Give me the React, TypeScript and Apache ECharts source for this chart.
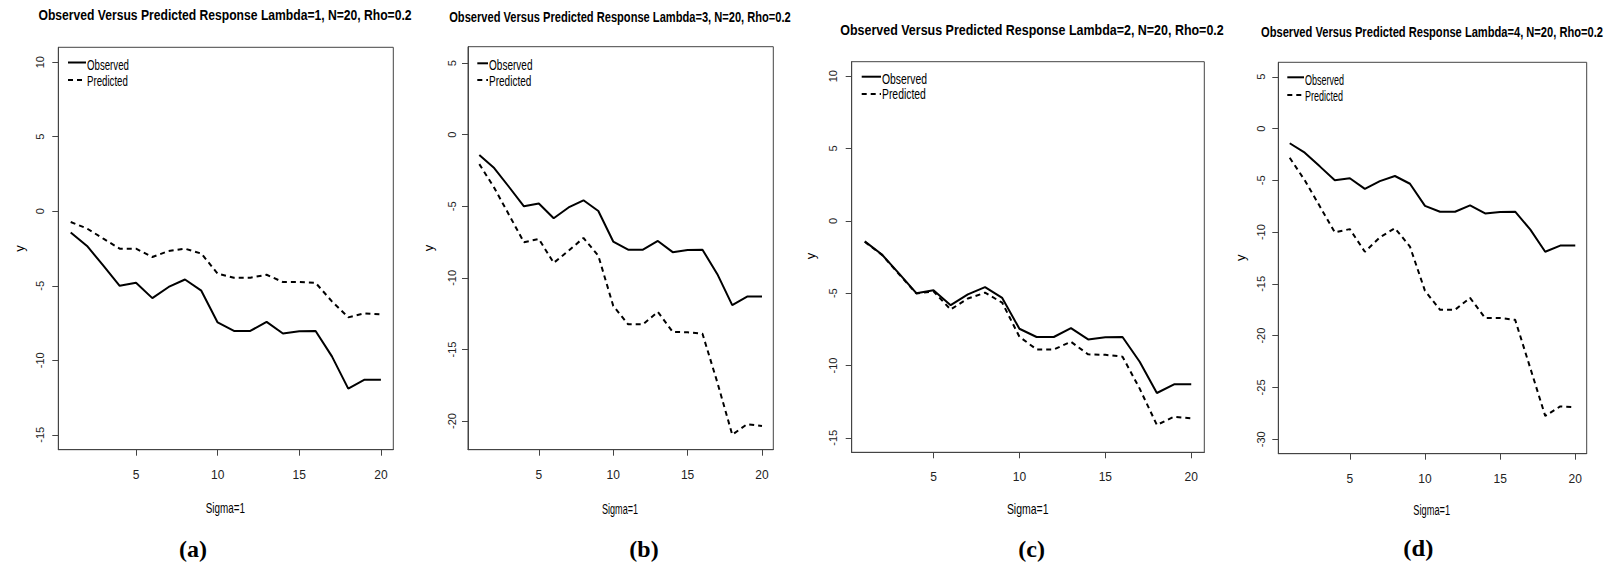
import React, { useEffect, useRef } from "react";
import * as echarts from "echarts";

// ---------- data ----------
const xValues = [1, 2, 3, 4, 5, 6, 7, 8, 9, 10, 11, 12, 13, 14, 15, 16, 17, 18, 19, 20];
const observed = [-1.42, -2.33, -3.65, -5.0, -4.8, -5.83, -5.08, -4.58, -5.33, -7.46, -8.03, -8.03, -7.42, -8.2, -8.05, -8.03, -9.74, -11.9, -11.3, -11.3];
const predictedLambda1 = [-0.72, -1.16, -1.84, -2.51, -2.51, -3.07, -2.67, -2.51, -2.84, -4.19, -4.46, -4.46, -4.26, -4.75, -4.75, -4.8, -6.05, -7.12, -6.85, -6.92];
const predictedLambda3 = [-2.05, -3.7, -5.6, -7.51, -7.28, -8.95, -8.1, -7.21, -8.45, -11.95, -13.24, -13.24, -12.37, -13.77, -13.8, -13.9, -17.3, -20.95, -20.22, -20.35];
const predictedLambda2 = [-1.45, -2.35, -3.7, -5.02, -4.88, -6.13, -5.37, -4.97, -5.66, -8.01, -8.89, -8.89, -8.36, -9.23, -9.26, -9.39, -11.6, -14.11, -13.54, -13.65];
const predictedLambda4 = [-2.82, -5.0, -7.5, -10.03, -9.71, -11.9, -10.5, -9.62, -11.4, -15.67, -17.5, -17.5, -16.35, -18.3, -18.3, -18.47, -23.1, -27.75, -26.83, -26.9];

const xTicks = [5, 10, 15, 20];
const yTicksAC = [-15, -10, -5, 0, 5, 10];
const yTicksB = [-20, -15, -10, -5, 0, 5];
const yTicksD = [-30, -25, -20, -15, -10, -5, 0, 5];

const titles = [
  "Observed Versus Predicted Response Lambda=1, N=20, Rho=0.2",
  "Observed Versus Predicted Response Lambda=3, N=20, Rho=0.2",
  "Observed Versus Predicted Response Lambda=2, N=20, Rho=0.2",
  "Observed Versus Predicted Response Lambda=4, N=20, Rho=0.2",
];
const panelLetters = ["(a)", "(b)", "(c)", "(d)"];
const seriesNames = ["Observed", "Predicted"];
const xName = "Sigma=1";
const yName = "y";

// ---------- layout ----------
const panels = [
  {
    grid: { left: 58.3, top: 47.3, width: 335, height: 402.4 },
    yMin: -16, yMax: 11, yTicks: yTicksAC, predicted: predictedLambda1,
    title: { cx: 225, cy: 15.5, w: 374 },
    legend: { x0: 68, x1: 86, tx: 87, tw: 42, y1: 62.5, ty1: 65, y2: 80, ty2: 81 },
    xname: { cx: 225.3, cy: 508, w: 39.3 },
    yname: { x: 19, y: 248.5 },
    letter: { cx: 193, cy: 549, w: 28 },
    yMargin: 12.5, xMargin: 19,
  },
  {
    grid: { left: 468, top: 46.7, width: 305.3, height: 403 },
    yMin: -22, yMax: 6.15, yTicks: yTicksB, predicted: predictedLambda3,
    title: { cx: 620, cy: 17.2, w: 342 },
    legend: { x0: 477.3, x1: 488, tx: 489, tw: 43.5, y1: 63.3, ty1: 65.7, y2: 80, ty2: 81.7 },
    xname: { cx: 620, cy: 508.7, w: 36 },
    yname: { x: 428, y: 248 },
    letter: { cx: 644, cy: 548.7, w: 29.3 },
    yMargin: 10.5, xMargin: 19,
  },
  {
    grid: { left: 851.7, top: 61.7, width: 352.6, height: 390.6 },
    yMin: -16, yMax: 11, yTicks: yTicksAC, predicted: predictedLambda2,
    title: { cx: 1032, cy: 30.5, w: 384 },
    legend: { x0: 861.7, x1: 881, tx: 882, tw: 45, y1: 76.7, ty1: 79, y2: 94, ty2: 94.3 },
    xname: { cx: 1027.7, cy: 509, w: 41.7 },
    yname: { x: 810, y: 256 },
    letter: { cx: 1031.7, cy: 548.7, w: 26.7 },
    yMargin: 13, xMargin: 19,
  },
  {
    grid: { left: 1278.3, top: 62.3, width: 308.4, height: 391.4 },
    yMin: -31.4, yMax: 6.4, yTicks: yTicksD, predicted: predictedLambda4,
    title: { cx: 1432, cy: 32, w: 342.6 },
    legend: { x0: 1287.3, x1: 1304, tx: 1305, tw: 39, y1: 77.3, ty1: 80, y2: 95, ty2: 95.7 },
    xname: { cx: 1431.7, cy: 510.7, w: 36.7 },
    yname: { x: 1240, y: 257.7 },
    letter: { cx: 1418.3, cy: 548.7, w: 30 },
    yMargin: 11.5, xMargin: 19,
  },
];

const SANS = "'Liberation Sans', Arial, sans-serif";
const NARROW = "'Liberation Sans Narrow', 'Liberation Sans', Arial, sans-serif";
const SERIF = "'Liberation Serif', 'Times New Roman', serif";
const DASH = [5, 4];

let ctx: CanvasRenderingContext2D | null = null;
function measure(text: string, font: string): number {
  if (!ctx) ctx = document.createElement("canvas").getContext("2d");
  if (!ctx) return text.length * 7;
  ctx.font = font;
  return ctx.measureText(text).width;
}

function fitText(text: string, font: string, cx: number, cy: number, w: number, extra: any = {}) {
  const natural = measure(text, font);
  const s = natural > 0 ? w / natural : 1;
  return {
    type: "text",
    x: cx,
    y: cy,
    scaleX: s,
    silent: true,
    style: {
      text,
      font,
      fill: "#000",
      align: "center",
      verticalAlign: "middle",
      textAlign: "center",
      textVerticalAlign: "middle",
      ...extra,
    },
  };
}

export default function App() {
  const ref = useRef<HTMLDivElement>(null);

  useEffect(() => {
    if (!ref.current) return;
    const chart = echarts.init(ref.current, undefined, { renderer: "svg" });

    const grids: any[] = [];
    const xAxes: any[] = [];
    const yAxes: any[] = [];
    const series: any[] = [];
    const graphics: any[] = [];

    panels.forEach((p, i) => {
      grids.push({
        ...p.grid,
        show: true,
        borderColor: "#444",
        borderWidth: 1,
        backgroundColor: "transparent",
        containLabel: false,
      });
      xAxes.push({
        type: "value",
        gridIndex: i,
        position: "bottom",
        min: 0.24,
        max: 20.76,
        axisLine: { show: true, onZero: false, lineStyle: { color: "#444", width: 1 } },
        axisTick: { show: true, inside: false, length: 6, customValues: xTicks, lineStyle: { color: "#444" } },
        axisLabel: {
          show: true,
          customValues: xTicks,
          margin: p.xMargin,
          fontFamily: NARROW,
          fontSize: 12,
          color: "#222",
        },
        splitLine: { show: false },
      });
      yAxes.push({
        type: "value",
        gridIndex: i,
        position: "left",
        min: p.yMin,
        max: p.yMax,
        axisLine: { show: true, onZero: false, lineStyle: { color: "#444", width: 1 } },
        axisTick: { show: true, inside: false, length: 6, customValues: p.yTicks, lineStyle: { color: "#444" } },
        axisLabel: {
          show: true,
          customValues: p.yTicks,
          rotate: 90,
          margin: p.yMargin,
          fontFamily: SANS,
          fontSize: 11,
          color: "#222",
        },
        splitLine: { show: false },
      });
      series.push({
        name: seriesNames[0],
        type: "line",
        xAxisIndex: i,
        yAxisIndex: i,
        data: xValues.map((x, k) => [x, observed[k]]),
        symbol: "none",
        lineStyle: { color: "#000", width: 2, type: "solid" },
        z: 3,
      });
      series.push({
        name: seriesNames[1],
        type: "line",
        xAxisIndex: i,
        yAxisIndex: i,
        data: xValues.map((x, k) => [x, p.predicted[k]]),
        symbol: "none",
        lineStyle: { color: "#000", width: 2, type: DASH },
        z: 2,
      });

      // title
      graphics.push(fitText(titles[i], `bold 15px ${SANS}`, p.title.cx, p.title.cy, p.title.w));
      // axis names
      graphics.push(fitText(xName, `14px ${SANS}`, p.xname.cx, p.xname.cy, p.xname.w));
      graphics.push({
        type: "text",
        x: p.yname.x,
        y: p.yname.y,
        rotation: Math.PI / 2,
        silent: true,
        style: {
          text: yName,
          font: `13px ${SANS}`,
          fill: "#000",
          align: "center",
          verticalAlign: "middle",
          textAlign: "center",
          textVerticalAlign: "middle",
        },
      });
      // panel letter
      graphics.push(fitText(panelLetters[i], `bold 23px ${SERIF}`, p.letter.cx, p.letter.cy, p.letter.w));

      // legend
      const lg = p.legend;
      const legFont = `14px ${SANS}`;
      const s = lg.tw / measure(seriesNames[0], legFont);
      graphics.push({
        type: "line",
        silent: true,
        shape: { x1: lg.x0, y1: lg.y1, x2: lg.x1, y2: lg.y1 },
        style: { stroke: "#000", lineWidth: 2 },
      });
      graphics.push({
        type: "line",
        silent: true,
        shape: { x1: lg.x0, y1: lg.y2, x2: lg.x1, y2: lg.y2 },
        style: { stroke: "#000", lineWidth: 2, lineDash: DASH },
      });
      [seriesNames[0], seriesNames[1]].forEach((name, k) => {
        graphics.push({
          type: "text",
          x: lg.tx,
          y: k === 0 ? lg.ty1 : lg.ty2,
          scaleX: s,
          silent: true,
          style: {
            text: name,
            font: legFont,
            fill: "#000",
            align: "left",
            verticalAlign: "middle",
            textAlign: "left",
            textVerticalAlign: "middle",
          },
        });
      });
    });

    chart.setOption({
      animation: false,
      backgroundColor: "#fff",
      grid: grids,
      xAxis: xAxes,
      yAxis: yAxes,
      series,
      graphic: { elements: graphics },
    });

    return () => {
      chart.dispose();
    };
  }, []);

  return (
    <div
      ref={ref}
      style={{ position: "fixed", left: 0, top: 0, width: 1617, height: 566, background: "#fff" }}
    />
  );
}
